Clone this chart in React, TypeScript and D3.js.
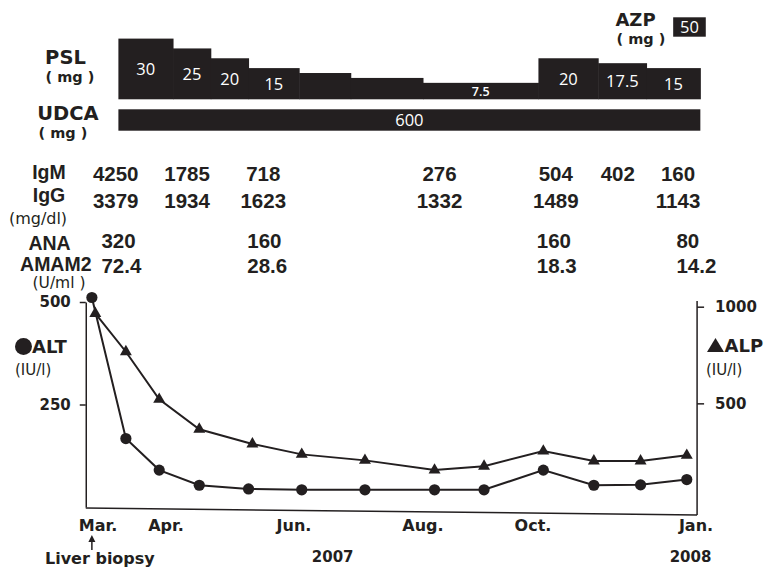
import { useEffect, useRef } from 'react';
import * as d3 from 'd3';

// month scale: 3 = Mar. 2007 ... 13 = Jan. 2008
const monthTicks = [3, 4, 6, 8, 10, 13];
const monthNames = ['Mar.', 'Apr.', 'Jun.', 'Aug.', 'Oct.', 'Jan.'];
const yearNames = ['2007', '2008'];
const yearMonths = [6.6, 12.9];

// ALT / ALP visits
const altMonths = [2.91, 3.41, 3.9, 4.52, 5.29, 6.12, 7.1, 8.21, 9.11, 10.19, 11.12, 11.98, 12.83];
const altValues = [511, 167, 90, 53, 44, 42, 42, 42, 42, 90, 53, 54, 67];
const alpMonths = [2.96, 3.41, 3.9, 4.52, 5.35, 6.12, 7.1, 8.21, 9.11, 10.19, 11.12, 11.98, 12.83];
const alpValues = [965, 767, 521, 366, 290, 236, 205, 155, 175, 253, 202, 202, 231];
const altTicks = [250, 500];
const alpTicks = [500, 1000];

// PSL dose steps
const pslBreaks = [3.3, 4.11, 4.7, 5.29, 6.08, 6.88, 8.0, 10.1, 11.2, 12.09, 13.08];
const pslDoses = [30, 25, 20, 15, 12.5, 10, 7.5, 20, 17.5, 15];
const pslLabels = ['30', '25', '20', '15', '', '', '7.5', '20', '17.5', '15'];
const udcaPeriod = [3.3, 13.08];
const udcaDose = '600';
const azpPeriod = [12.58, 13.18];
const azpDose = '50';

// lab table
const igDates = [3.26, 4.33, 5.52, 8.3, 10.42, 11.56, 12.67];
const igmValues = ['4250', '1785', '718', '276', '504', '402', '160'];
const iggValues = ['3379', '1934', '1623', '1332', '1489', '', '1143'];
const abDates = [3.05, 5.27, 10.07, 12.64];
const anaValues = ['320', '160', '160', '80'];
const amamValues = ['72.4', '28.6', '18.3', '14.2'];

const INK = '#231f20';
const TABLE_FONT = '"Liberation Sans", Arial, sans-serif';
const CHART_FONT = '"DejaVu Sans", sans-serif';
const BAR_FONT = '"Open Sans", "Noto Sans", sans-serif';

type Sel = d3.Selection<SVGGElement, unknown, null, undefined>;

function label(
  g: Sel,
  x: number,
  y: number,
  s: string,
  size: number,
  font: string,
  anchor = 'middle',
  weight = 'bold',
  fill = INK
) {
  g.append('text')
    .attr('x', x)
    .attr('y', y)
    .attr('text-anchor', anchor)
    .attr('font-family', font)
    .attr('font-size', size)
    .attr('font-weight', weight)
    .attr('fill', fill)
    .text(s);
}

const App: React.FC = () => {
  const svgRef = useRef<SVGSVGElement | null>(null);

  useEffect(() => {
    if (!svgRef.current) return;
    const svg = d3.select(svgRef.current);
    svg.selectAll('*').remove();
    const g = svg.append('g') as unknown as Sel;

    const x = d3.scaleLinear().domain(monthTicks).range([98, 166, 294, 423, 533, 696]);
    const yAlt = d3.scaleLinear().domain([0, 500]).range([507, 302]);
    const yAlp = d3.scaleLinear().domain([0, 1000]).range([500, 306.7]);
    const yPsl = d3.scaleLinear().domain([0, 30]).range([97.6, 38.6]);
    const pslBase = 99.3;

    // --- medication bars ---
    label(g, 65.5, 63.5, 'PSL', 19.5, CHART_FONT);
    label(g, 70, 82, '( mg )', 14.5, CHART_FONT);
    label(g, 68, 119.5, 'UDCA', 19.5, CHART_FONT);
    label(g, 63, 138, '( mg )', 14.5, CHART_FONT);
    label(g, 635.5, 26, 'AZP', 18, CHART_FONT);
    label(g, 641, 43.5, '( mg )', 14.5, CHART_FONT);

    pslDoses.forEach((d, i) => {
      const x0 = x(pslBreaks[i]);
      const x1 = x(pslBreaks[i + 1]);
      g.append('rect')
        .attr('x', x0)
        .attr('y', yPsl(d))
        .attr('width', x1 - x0 + 0.5)
        .attr('height', pslBase - yPsl(d))
        .attr('fill', INK);
      if (pslLabels[i]) {
        const small = d < 10;
        label(
          g,
          (x0 + x1) / 2,
          (yPsl(d) + pslBase) / 2 + (small ? 4.5 : 6),
          pslLabels[i],
          small ? 12.5 : 16.5,
          BAR_FONT,
          'middle',
          small ? '600' : 'normal',
          '#fff'
        );
      }
    });

    g.append('rect')
      .attr('x', x(udcaPeriod[0]))
      .attr('y', 109.3)
      .attr('width', x(udcaPeriod[1]) - x(udcaPeriod[0]))
      .attr('height', 21.4)
      .attr('fill', INK);
    label(g, (x(udcaPeriod[0]) + x(udcaPeriod[1])) / 2, 126, udcaDose, 16.5, BAR_FONT, 'middle', 'normal', '#fff');

    g.append('rect')
      .attr('x', x(azpPeriod[0]))
      .attr('y', 17.3)
      .attr('width', x(azpPeriod[1]) - x(azpPeriod[0]))
      .attr('height', 19.4)
      .attr('fill', INK);
    label(g, (x(azpPeriod[0]) + x(azpPeriod[1])) / 2, 33, azpDose, 16.5, BAR_FONT, 'middle', 'normal', '#fff');

    // --- lab table ---
    label(g, 49, 179, 'IgM', 19.5, TABLE_FONT);
    label(g, 49, 201.5, 'IgG', 19.5, TABLE_FONT);
    label(g, 38, 223.5, '(mg/dl)', 16, CHART_FONT, 'middle', 'normal');
    label(g, 49.5, 249.5, 'ANA', 19.5, TABLE_FONT);
    label(g, 55.8, 270.5, 'AMAM2', 19.5, TABLE_FONT);
    label(g, 59, 287.5, '(U/ml )', 15.5, CHART_FONT, 'middle', 'normal');

    igDates.forEach((m, i) => {
      label(g, x(m), 180.5, igmValues[i], 20.5, TABLE_FONT);
      if (iggValues[i]) label(g, x(m), 207.5, iggValues[i], 20.5, TABLE_FONT);
    });
    abDates.forEach((m, i) => {
      label(g, x(m), 247.5, anaValues[i], 20.5, TABLE_FONT, 'start');
      label(g, x(m), 272.5, amamValues[i], 20.5, TABLE_FONT, 'start');
    });

    // --- ALT / ALP chart ---
    const xLeft = x(2.82);
    const xRight = x(13.02);

    const leftAxis = g
      .append('g')
      .attr('transform', `translate(${xLeft},0)`)
      .call(d3.axisLeft(yAlt).tickValues(altTicks).tickSize(6).tickSizeOuter(0).tickPadding(9));
    leftAxis.select('.domain').attr('stroke', INK).attr('stroke-width', 1.5);
    leftAxis.selectAll('.tick line').attr('stroke', INK).attr('stroke-width', 1.5);
    leftAxis
      .selectAll('.tick text')
      .attr('font-family', CHART_FONT)
      .attr('font-size', 15)
      .attr('font-weight', 'bold')
      .attr('fill', INK);

    const rightAxis = g
      .append('g')
      .attr('transform', `translate(${xRight},0)`)
      .call(
        d3
          .axisRight(yAlp)
          .tickValues(alpTicks)
          .tickFormat(d3.format('d'))
          .tickSize(7)
          .tickSizeOuter(0)
          .tickPadding(11)
      );
    rightAxis.select('.domain').remove();
    rightAxis.selectAll('.tick line').attr('stroke', INK).attr('stroke-width', 1.5);
    rightAxis
      .selectAll('.tick text')
      .attr('font-family', CHART_FONT)
      .attr('font-size', 15)
      .attr('font-weight', 'bold')
      .attr('fill', INK);

    g.append('line')
      .attr('x1', xRight)
      .attr('x2', xRight)
      .attr('y1', 301)
      .attr('y2', 515)
      .attr('stroke', INK)
      .attr('stroke-width', 1.5);
    g.append('line')
      .attr('x1', xLeft)
      .attr('x2', xRight)
      .attr('y1', yAlt(0) + 1)
      .attr('y2', 515)
      .attr('stroke', INK)
      .attr('stroke-width', 1.5);

    const altPts: [number, number][] = altMonths.map((m, i) => [x(m), yAlt(altValues[i])]);
    const alpPts: [number, number][] = alpMonths.map((m, i) => [x(m), yAlp(alpValues[i])]);
    const line = d3.line<[number, number]>();

    g.append('path').attr('d', line(alpPts)).attr('fill', 'none').attr('stroke', INK).attr('stroke-width', 2);
    g.append('path').attr('d', line(altPts)).attr('fill', 'none').attr('stroke', INK).attr('stroke-width', 2);

    const tri = d3.symbol().type(d3.symbolTriangle).size(62);
    g.selectAll('.alp')
      .data(alpPts)
      .join('path')
      .attr('transform', (d) => `translate(${d[0]},${d[1]})`)
      .attr('d', tri())
      .attr('fill', INK);
    g.selectAll('.alt')
      .data(altPts)
      .join('circle')
      .attr('cx', (d) => d[0])
      .attr('cy', (d) => d[1])
      .attr('r', 5.6)
      .attr('fill', INK);

    // legends
    g.append('circle').attr('cx', 23.5).attr('cy', 346.5).attr('r', 8.5).attr('fill', INK);
    label(g, 32, 353, 'ALT', 18, CHART_FONT, 'start');
    label(g, 15, 375, '(IU/l)', 15, CHART_FONT, 'start', 'normal');
    g.append('path').attr('d', 'M707,352L724,352L715.5,338Z').attr('fill', INK);
    label(g, 724.5, 352, 'ALP', 18, CHART_FONT, 'start');
    label(g, 706, 375, '(IU/l)', 15, CHART_FONT, 'start', 'normal');

    // month axis labels
    monthTicks.forEach((m, i) => {
      label(g, x(m), 531, monthNames[i], 16, CHART_FONT);
    });
    yearMonths.forEach((m, i) => {
      label(g, x(m), 562, yearNames[i], 15, CHART_FONT);
    });

    // liver biopsy arrow at first visit
    const bx = x(altMonths[0]);
    g.append('line').attr('x1', bx).attr('x2', bx).attr('y1', 540).attr('y2', 550).attr('stroke', INK).attr('stroke-width', 1.5);
    g.append('path').attr('d', `M${bx - 3.5},${542}L${bx + 3.5},${542}L${bx},${535}Z`).attr('fill', INK);
    label(g, 45, 564, 'Liver biopsy', 16, CHART_FONT, 'start');
  }, []);

  return (
    <svg
      ref={svgRef}
      width={769}
      height={574}
      style={{ position: 'absolute', left: 0, top: 0, background: '#fff' }}
    ></svg>
  );
};

export default App;
